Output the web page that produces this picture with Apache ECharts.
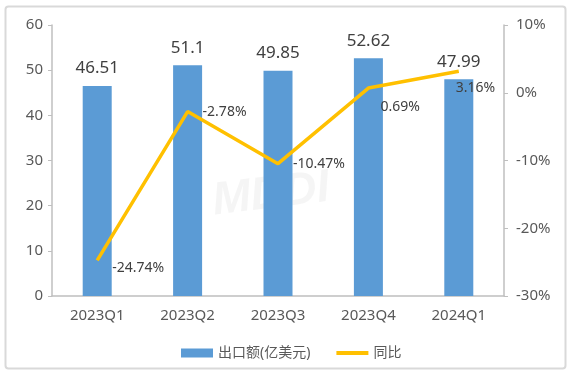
<!DOCTYPE html>
<html><head><meta charset="utf-8">
<script src="https://cdn.jsdelivr.net/npm/echarts@6/dist/echarts.min.js"></script>
<style>html,body{margin:0;padding:0;background:#fff}#c{width:568px;height:370px}</style>
</head><body><div id="c"></div>
<script>
const categories = ['2023Q1','2023Q2','2023Q3','2023Q4','2024Q1'];
const exportValues = [46.51, 51.1, 49.85, 52.62, 47.99];
const yoyValues = [-24.74, -2.78, -10.47, 0.69, 3.16];
const leftTicks = {min: 0, max: 60, interval: 10};
const rightTicks = {min: -30, max: 10, interval: 10};
const seriesNames = ['出口额(亿美元)', '同比'];

const font = '"Microsoft YaHei","Noto Sans","Noto Sans CJK SC",sans-serif';
const labelOffsets = [[0,8],[0,0],[0,0],[-3,19],[-18,17]];
const chart = echarts.init(document.getElementById('c'));
chart.setOption({
  animation: false,
  textStyle: {fontFamily: font},
  graphic: [
    {type:'rect', left:3, top:4, shape:{width:560, height:362, r:3}, style:{fill:'none', stroke:'#d9d9d9', lineWidth:2}, z:-1},
    {type:'text', left:210, top:165, rotation:0.12, style:{text:'MDDI', font:'italic bold 46px sans-serif', fill:'rgba(200,200,200,0.18)'}, z:-1}
  ],
  grid: {left: 52, right: 64, top: 25, bottom: 74},
  legend: {
    top: 341, left: 176, itemWidth: 32, itemHeight: 9, itemGap: 24,
    textStyle: {fontSize: 14, color: '#595959', fontFamily: font},
    data: [{name: seriesNames[0], icon: 'rect'},
           {name: seriesNames[1], itemStyle: {opacity: 0}, lineStyle: {width: 4, color: '#FFC000'}}]
  },
  xAxis: {
    type: 'category', data: categories,
    axisLine: {lineStyle: {color: '#bfbfbf', width: 1.5}},
    axisTick: {show: false},
    axisLabel: {fontSize: 15, color: '#595959', margin: 12}
  },
  yAxis: [
    {type: 'value', min: leftTicks.min, max: leftTicks.max, interval: leftTicks.interval,
     axisLine: {show: true, lineStyle: {color: '#bfbfbf', width: 1.5}},
     axisTick: {show: true, length: 4, lineStyle: {color: '#bfbfbf'}},
     splitLine: {show: false},
     axisLabel: {fontSize: 15, color: '#595959', margin: 9}},
    {type: 'value', min: rightTicks.min, max: rightTicks.max, interval: rightTicks.interval,
     axisLine: {show: true, lineStyle: {color: '#bfbfbf', width: 1.5}},
     axisTick: {show: true, length: 4, lineStyle: {color: '#bfbfbf'}},
     splitLine: {show: false},
     axisLabel: {fontSize: 15, color: '#595959', margin: 12, formatter: '{value}%'}}
  ],
  series: [
    {name: seriesNames[0], type: 'bar', data: exportValues, barWidth: 29,
     itemStyle: {color: '#5B9BD5'},
     label: {show: true, position: 'top', distance: 9, fontSize: 17, color: '#404040', fontFamily: font}},
    {name: seriesNames[1], type: 'line', yAxisIndex: 1, symbol: 'circle', symbolSize: 0.01, showSymbol: true,
     data: yoyValues.map((v, i) => ({value: v, label: {offset: labelOffsets[i]}})),
     lineStyle: {color: '#FFC000', width: 3.5}, itemStyle: {color: '#FFC000'},
     label: {show: true, position: 'right', distance: 15, fontSize: 14, color: '#404040', fontFamily: font,
       formatter: p => p.value + '%'}}
  ]
});
</script></body></html>
